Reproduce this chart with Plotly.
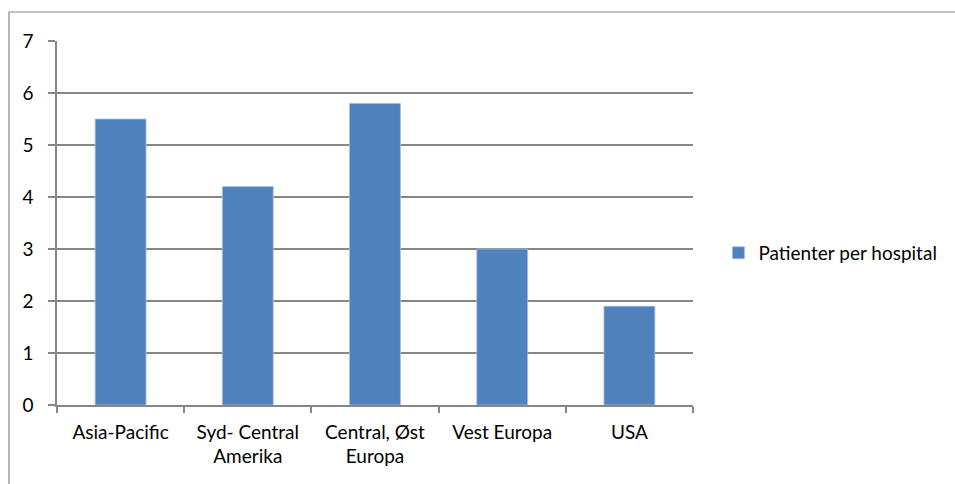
import plotly.graph_objects as go

categories = ["Asia-Pacific", "Syd- Central<br>Amerika", "Central, Øst<br>Europa", "Vest Europa", "USA"]
values = [5.5, 4.2, 5.8, 3.0, 1.9]
series_name = "Patienter per hospital"
y_ticks = [0, 1, 2, 3, 4, 5, 6, 7]

FONT = "Lato, Calibri, Carlito, sans-serif"
FS = 19
GRID = "#868686"

fig = go.Figure()
fig.add_trace(go.Bar(
    x=categories, y=values, name=series_name,
    marker=dict(color="#4F81BD", line=dict(color="#A7C0E0", width=0.8)),
    width=0.4,
    showlegend=True,
))

fig.update_layout(
    width=955, height=484,
    margin=dict(l=57, r=262, t=41, b=79),
    paper_bgcolor="white", plot_bgcolor="white",
    font=dict(family=FONT, size=FS, color="#000000"),
    showlegend=True,
    legend=dict(x=1.04, y=0.418, xanchor="left", yanchor="middle",
                font=dict(family=FONT, size=FS, color="#000000"),
                itemwidth=30, bgcolor="rgba(0,0,0,0)", tracegroupgap=0),
    bargap=0.6,
)

fig.update_xaxes(
    type="category",
    showline=True, linecolor=GRID, linewidth=1.5,
    ticks="outside", tickson="boundaries", ticklen=6, tickcolor=GRID, tickwidth=1.5,
    showgrid=False, tickfont=dict(family=FONT, size=FS),
    ticklabelstandoff=9,
)
fig.update_yaxes(
    range=[0, 7], tickvals=y_ticks,
    showline=True, linecolor=GRID, linewidth=1.5,
    ticks="outside", ticklen=7, tickcolor=GRID, tickwidth=1.5,
    showgrid=True, gridcolor=GRID, gridwidth=1.5,
    zeroline=False,
    tickfont=dict(family=FONT, size=FS),
    ticklabelstandoff=11,
)

# outer chart border
fig.add_shape(type="rect", xref="paper", yref="paper",
              x0=-48/636, y0=-2, x1=3, y1=(405-12)/364,
              line=dict(color="#868686", width=1.2), fillcolor="rgba(0,0,0,0)",
              layer="below")

fig.write_html("out.html")
